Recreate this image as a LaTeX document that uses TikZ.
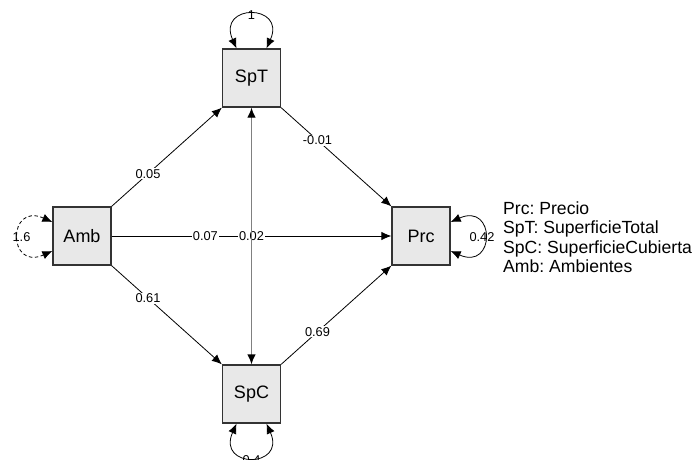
\documentclass[tikz,border=0pt]{standalone}
\usepackage{fontspec}
\setmainfont{Liberation Sans}
\usetikzlibrary{arrows.meta,calc}
\frenchspacing
\begin{document}
\begin{tikzpicture}[x=1pt,y=-1pt,
  varbox/.style={draw=black!80, line width=1.3pt, fill=black!9, minimum width=58pt, minimum height=58pt, inner sep=0pt, font=\fontsize{18}{20}\selectfont},
  regr/.style={line width=0.8pt, -{Latex[length=10pt,width=8.5pt]}},
  cov/.style={line width=1.3pt, draw=black!50, {Latex[length=10pt,width=8.5pt,color=black]}-{Latex[length=10pt,width=8.5pt,color=black]}},
  lbl/.style={font=\fontsize{12.8}{14}\selectfont, fill=white, inner sep=1pt},
  varlbl/.style={font=\fontsize{12.8}{14}\selectfont, inner sep=0pt},
  loopedge/.style={line width=0.8pt, {Latex[length=10pt,width=8.5pt]}-{Latex[length=10pt,width=8.5pt]}},
  legendtext/.style={anchor=north west, align=left, inner sep=0pt, font=\fontsize{17.6}{19.2}\selectfont}
]
\useasboundingbox (0,0) rectangle (692,459);
\fill[white] (0,0) rectangle (692,459);

\node[varbox] (SpT) at (251.5,78) {SpT};
\node[varbox] (Amb) at (82,236) {Amb};
\node[varbox] (Prc) at (421,236) {Prc};
\node[varbox] (SpC) at (251.5,394) {SpC};

\draw[regr] (Amb.north east) -- node[lbl,pos=0.33]{0.05} (SpT.south west);
\draw[regr] (Amb.south east) -- node[lbl,pos=0.33]{0.61} (SpC.north west);
\draw[regr] (SpT.south east) -- node[lbl,pos=0.33]{-0.01} (Prc.north west);
\draw[regr] (SpC.north east) -- node[lbl,pos=0.33]{0.69} (Prc.south west);
\draw[regr] (Amb.east) -- node[lbl,pos=0.335]{0.07} (Prc.west);
\path (SpT.south) -- node[lbl]{0.02} (SpC.north);
\draw[cov] (SpT.south) -- (SpC.north);

\node[varlbl] (vSpT) at (251.5,15) {1};
\draw[loopedge] ([xshift=-15pt]SpT.north) .. controls +(-20,-45) and +(20,-45) .. ([xshift=15pt]SpT.north);
\node[varlbl] (vSpC) at (251.5,460) {0.4};
\draw[loopedge] ([xshift=-15pt]SpC.south) .. controls +(-20,45) and +(20,45) .. ([xshift=15pt]SpC.south);
\node[varlbl] (vPrc) at (482,237) {0.42};
\draw[loopedge] ([yshift=14pt]Prc.east) .. controls +(45,-20) and +(45,20) .. ([yshift=-15pt]Prc.east);
\node[varlbl] (vAmb) at (21.5,237) {1.6};
\draw[loopedge, dash pattern=on 3.5pt off 2.5pt] ([yshift=14pt]Amb.west) .. controls +(-45,-20) and +(-45,20) .. ([yshift=-15pt]Amb.west);

\node[legendtext] (legend) at (503,201.7) {Prc: Precio\\SpT: SuperficieTotal\\SpC: SuperficieCubierta\\Amb: Ambientes};
\end{tikzpicture}
\end{document}
